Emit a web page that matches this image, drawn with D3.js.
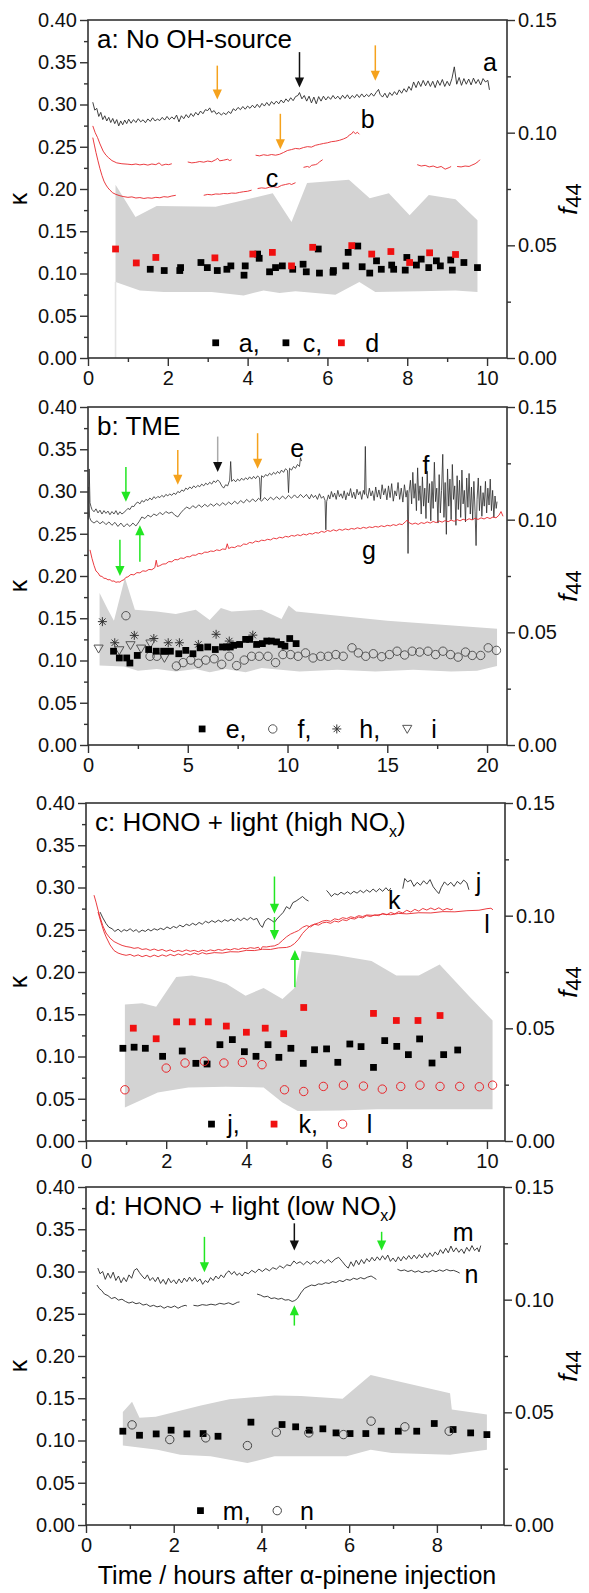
<!DOCTYPE html>
<html>
<head>
<meta charset="utf-8">
<script src="https://cdn.jsdelivr.net/npm/d3@7"></script>
<style>
  body { margin: 0; background: #fff; }
  svg { display: block; font-family: "Liberation Sans", Arial, Helvetica, sans-serif; }
</style>
</head>
<body>
<svg id="fig" width="589" height="1593"></svg>
<script>
// ---------------- axis ticks ----------------
const kappaTicks = [0, 0.05, 0.10, 0.15, 0.20, 0.25, 0.30, 0.35, 0.40];
const kappaMinor = [0.025, 0.075, 0.125, 0.175, 0.225, 0.275, 0.325, 0.375];
const f44Ticks = [0, 0.05, 0.10, 0.15];
const f44Minor = [0.025, 0.075, 0.125];
const timeTicksA = [0, 2, 4, 6, 8, 10], timeMinorA = [1, 3, 5, 7, 9];
const timeTicksB = [0, 5, 10, 15, 20], timeMinorB = [2.5, 7.5, 12.5, 17.5];
const timeTicksC = [0, 2, 4, 6, 8, 10], timeMinorC = [1, 3, 5, 7, 9];
const timeTicksD = [0, 2, 4, 6, 8], timeMinorD = [1, 3, 5, 7, 9];

// ---------------- panel a : no OH source ----------------
// f44 time series [hours, f44]
const f44_a = [[
[0.12,0.1135],[0.17,0.1100],[0.22,0.1108],[0.27,0.1072],[0.32,0.1090],[0.37,0.1058],[0.42,0.1075],[0.47,0.1052],[0.52,0.1068],[0.57,0.1045],[0.62,0.1063],[0.67,0.1040],[0.72,0.1058],[0.77,0.1030],[0.82,0.1052],[0.87,0.1035],[0.92,0.1056],[0.97,0.1040],[1.02,0.1060],[1.08,0.1042],[1.14,0.1058],[1.2,0.1045],[1.26,0.1062],[1.32,0.1048],[1.38,0.1057],[1.44,0.1044],[1.5,0.1061],[1.56,0.1050],[1.62,0.1066],[1.68,0.1052],[1.74,0.1060],[1.8,0.1054],[1.86,0.1068],[1.92,0.1056],[1.98,0.1072],[2.04,0.1058],[2.1,0.1070],[2.16,0.1060],[2.22,0.1078],[2.28,0.1048],[2.34,0.1075],[2.4,0.1062],[2.46,0.1080],[2.52,0.1066],[2.58,0.1085],[2.64,0.1072],[2.7,0.1090],[2.76,0.1078],[2.82,0.1096],[2.88,0.1084],[2.94,0.1102],[3.0,0.1098],[3.05,0.1110],[3.1,0.1090],[3.16,0.1098],[3.22,0.1082],[3.28,0.1090],[3.34,0.1078],[3.4,0.1088],[3.46,0.1080],[3.52,0.1094],[3.58,0.1085],[3.64,0.1106],[3.7,0.1098],[3.76,0.1112],[3.82,0.1102],[3.88,0.1116],[3.94,0.1104],[4.0,0.1118],[4.06,0.1108],[4.12,0.1122],[4.18,0.1110],[4.24,0.1126],[4.3,0.1112],[4.36,0.1130],[4.42,0.1118],[4.48,0.1134],[4.54,0.1120],[4.6,0.1138],[4.66,0.1126],[4.72,0.1140],[4.78,0.1128],[4.84,0.1145],[4.9,0.1132],[4.96,0.1150],[5.02,0.1138],[5.08,0.1155],[5.14,0.1142],[5.2,0.1160],[5.26,0.1165],[5.3,0.1178],[5.36,0.1150],[5.42,0.1165],[5.48,0.1140],[5.54,0.1162],[5.6,0.1132],[5.66,0.1158],[5.72,0.1128],[5.78,0.1160],[5.84,0.1140],[5.9,0.1162],[5.96,0.1145],[6.02,0.1160],[6.08,0.1148],[6.14,0.1165],[6.2,0.1150],[6.26,0.1162],[6.32,0.1148],[6.38,0.1166],[6.44,0.1152],[6.5,0.1168],[6.56,0.1150],[6.62,0.1165],[6.68,0.1155],[6.74,0.1170],[6.8,0.1156],[6.86,0.1172],[6.92,0.1158],[6.98,0.1170],[7.04,0.1160],[7.1,0.1175],[7.16,0.1162],[7.22,0.1178],[7.28,0.1192],[7.32,0.1170],[7.38,0.1158],[7.44,0.1175],[7.5,0.1155],[7.56,0.1178],[7.62,0.1165],[7.68,0.1182],[7.74,0.1168],[7.8,0.1190],[7.86,0.1175],[7.92,0.1195],[7.98,0.1180],[8.04,0.1205],[8.1,0.1188],[8.16,0.1225],[8.22,0.1200],[8.28,0.1228],[8.34,0.1205],[8.4,0.1232],[8.46,0.1208],[8.52,0.1230],[8.58,0.1205],[8.64,0.1228],[8.7,0.1200],[8.76,0.1232],[8.82,0.1210],[8.88,0.1236],[8.94,0.1205],[9.0,0.1228],[9.06,0.1208],[9.12,0.1240],[9.18,0.1292],[9.24,0.1215],[9.3,0.1245],[9.36,0.1210],[9.42,0.1240],[9.48,0.1215],[9.54,0.1238],[9.6,0.1212],[9.66,0.1242],[9.72,0.1218],[9.78,0.1236],[9.84,0.1212],[9.9,0.1240],[9.96,0.1225],[10.02,0.1232],[10.06,0.1190]
]];
const f44_b = [[
[4.2,0.0900],[4.3,0.0897],[4.4,0.0902],[4.5,0.0899],[4.6,0.0903],[4.7,0.0900],[4.8,0.0904],[4.9,0.0912],[5.0,0.0921],[5.1,0.0925],[5.2,0.0930],[5.3,0.0928],[5.4,0.0934],[5.5,0.0938],[5.6,0.0936],[5.7,0.0944],[5.8,0.0948],[5.9,0.0952],[6.0,0.0955],[6.1,0.0960],[6.2,0.0962],[6.3,0.0966],[6.4,0.0972],[6.5,0.0980],[6.55,0.0990],[6.6,0.0994],[6.65,0.1005],[6.7,0.0995],[6.75,0.1002],[6.8,0.0993]
]];
const f44_c = [
[[0.12,0.0978],[0.16,0.0945],[0.2,0.0912],[0.25,0.0875],[0.3,0.0840],[0.35,0.0810],[0.4,0.0785],[0.45,0.0768],[0.5,0.0755],[0.55,0.0745],[0.62,0.0733],[0.7,0.0726],[0.8,0.0720],[0.9,0.0716],[1.0,0.0713],[1.1,0.0715],[1.2,0.0710],[1.3,0.0712],[1.4,0.0708],[1.5,0.0711],[1.6,0.0709],[1.7,0.0713],[1.8,0.0711],[1.9,0.0716],[2.0,0.0714],[2.1,0.0719],[2.2,0.0722]],
[[2.9,0.0722],[3.0,0.0726],[3.1,0.0724],[3.2,0.0728],[3.3,0.0727],[3.4,0.0730],[3.5,0.0729],[3.6,0.0732],[3.7,0.0731],[3.8,0.0735],[3.9,0.0738],[4.0,0.0740],[4.1,0.0745]],
[[4.25,0.0752],[4.35,0.0755],[4.45,0.0753],[4.55,0.0758],[4.65,0.0760],[4.75,0.0757],[4.85,0.0766],[4.95,0.0770],[5.05,0.0774],[5.1,0.0770],[5.2,0.0778]]
];
const f44_d = [
[[0.12,0.1030],[0.18,0.1000],[0.24,0.0978],[0.3,0.0950],[0.38,0.0918],[0.45,0.0900],[0.52,0.0888],[0.6,0.0876],[0.72,0.0866],[0.85,0.0862],[1.0,0.0860],[1.1,0.0858],[1.2,0.0861],[1.3,0.0857],[1.4,0.0860],[1.5,0.0856],[1.6,0.0861],[1.7,0.0858],[1.78,0.0866],[1.85,0.0855],[1.95,0.0860],[2.02,0.0858],[2.1,0.0862]],
[[2.5,0.0870],[2.6,0.0866],[2.7,0.0868],[2.8,0.0872],[2.9,0.0869],[3.0,0.0874],[3.1,0.0871],[3.2,0.0880],[3.25,0.0886],[3.3,0.0875],[3.4,0.0878],[3.5,0.0882],[3.55,0.0876],[3.6,0.0880]],
[[5.4,0.0846],[5.5,0.0850],[5.55,0.0846],[5.6,0.0855],[5.7,0.0858],[5.75,0.0862],[5.8,0.0870],[5.88,0.0880]],
[[8.25,0.0858],[8.35,0.0852],[8.45,0.0855],[8.55,0.0848],[8.65,0.0852],[8.75,0.0845],[8.85,0.0850],[8.95,0.0838],[9.05,0.0845],[9.1,0.0850]],
[[9.25,0.0850],[9.35,0.0848],[9.45,0.0852],[9.55,0.0850],[9.62,0.0856],[9.7,0.0862],[9.78,0.0872],[9.82,0.0880]]
];
// kappa values [hours, kappa]
const kappaA = [[1.56,0.105],[2.3,0.1035],[2.83,0.113],[3.24,0.1035],[3.58,0.109],[3.94,0.109],[4.29,0.118],[4.7,0.107],[5.13,0.105],[5.47,0.102],[5.8,0.1005],[6.15,0.1035],[6.52,0.125],[6.87,0.108],[7.23,0.115],[7.61,0.110],[7.95,0.104],[8.23,0.110],[8.54,0.107],[8.83,0.109],[9.13,0.104],[9.76,0.107]];
const kappaC = [[1.91,0.1035],[2.32,0.107],[2.99,0.107],[3.48,0.105],[3.91,0.098],[4.25,0.123],[4.55,0.102],[4.87,0.109],[5.39,0.111],[5.77,0.129],[6.14,0.1015],[6.46,0.109],[6.76,0.1325],[7.06,0.1005],[7.35,0.105],[7.66,0.105],[7.99,0.119],[8.35,0.117],[8.73,0.115],[9.09,0.116],[9.42,0.113]];
const kappaD = [[0.69,0.129],[1.21,0.1125],[1.7,0.119],[3.18,0.1185],[4.13,0.123],[4.62,0.125],[5.1,0.109],[5.63,0.131],[6.61,0.133],[7.11,0.123],[7.59,0.126],[8.06,0.113],[8.56,0.1245],[9.21,0.1225]];
const bandA_hi = [[0.69,0.205],[1.19,0.167],[1.72,0.18],[3.2,0.179],[4.63,0.195],[5.1,0.161],[5.49,0.207],[6.54,0.211],[7.06,0.189],[7.54,0.195],[8.06,0.169],[8.54,0.193],[9.21,0.188],[9.76,0.163]];
const bandA_lo = [[0.69,0.09],[1.3,0.08],[1.9,0.078],[3.1,0.078],[3.9,0.074],[4.4,0.080],[4.8,0.077],[5.2,0.079],[6.2,0.075],[6.8,0.09],[7.2,0.078],[8.3,0.079],[9.21,0.080],[9.76,0.078]];

// ---------------- panel b : TME ----------------
const f44_e = [[
[0.03,0.1000],[0.06,0.1225],[0.1,0.1075],[0.15,0.1058],[0.2,0.1045],[0.3,0.1035],[0.4,0.1048],[0.5,0.1030],[0.6,0.1042],[0.7,0.1025],[0.8,0.1040],[0.9,0.1028],[1.0,0.1038],[1.1,0.1022],[1.2,0.1036],[1.3,0.1025],[1.4,0.1040],[1.5,0.1022],[1.6,0.1035],[1.7,0.1025],[1.8,0.1032],[1.9,0.1040],[2.0,0.1050],[2.1,0.1045],[2.2,0.1060],[2.3,0.1058],[2.4,0.1072],[2.5,0.1078],[2.6,0.1070],[2.7,0.1085],[2.8,0.1078],[2.9,0.1090],[3.0,0.1085],[3.1,0.1096],[3.2,0.1088],[3.3,0.1102],[3.4,0.1094],[3.5,0.1103],[3.6,0.1098],[3.7,0.1108],[3.8,0.1100],[3.9,0.1112],[4.0,0.1106],[4.1,0.1114],[4.2,0.1108],[4.3,0.1118],[4.4,0.1112],[4.5,0.1125],[4.6,0.1120],[4.7,0.1132],[4.8,0.1126],[4.9,0.1140],[5.0,0.1134],[5.1,0.1145],[5.2,0.1138],[5.3,0.1150],[5.4,0.1142],[5.5,0.1152],[5.6,0.1146],[5.7,0.1158],[5.8,0.1150],[5.9,0.1162],[6.0,0.1155],[6.1,0.1166],[6.2,0.1158],[6.3,0.1172],[6.4,0.1165],[6.5,0.1176],[6.6,0.1168],[6.7,0.1150],[6.8,0.1140],[6.9,0.1155],[7.0,0.1150],[7.1,0.1175],[7.15,0.1258],[7.2,0.1170],[7.3,0.1178],[7.4,0.1168],[7.5,0.1180],[7.6,0.1172],[7.7,0.1184],[7.8,0.1175],[7.9,0.1186],[8.0,0.1178],[8.1,0.1190],[8.2,0.1180],[8.3,0.1192],[8.4,0.1182],[8.5,0.1194],[8.6,0.1186],[8.65,0.1090],[8.7,0.1195],[8.8,0.1188],[8.9,0.1200],[9.0,0.1194],[9.1,0.1206],[9.2,0.1198],[9.3,0.1210],[9.4,0.1202],[9.5,0.1214],[9.6,0.1205],[9.7,0.1220],[9.8,0.1210],[9.9,0.1226],[10.0,0.1218],[10.05,0.1120],[10.1,0.1228],[10.2,0.1220],[10.3,0.1236],[10.4,0.1228],[10.5,0.1245],[10.6,0.1236],[10.65,0.1275],[10.7,0.1260]
]];
const f44_f = [[
[0.03,0.1145],[0.08,0.1010],[0.15,0.0995],[0.3,0.0985],[0.45,0.0995],[0.6,0.0982],[0.75,0.0992],[0.9,0.0978],[1.05,0.0990],[1.2,0.0975],[1.35,0.0988],[1.5,0.0970],[1.65,0.0985],[1.8,0.0968],[1.95,0.0982],[2.1,0.0970],[2.25,0.0985],[2.4,0.0972],[2.55,0.0990],[2.7,0.1012],[2.85,0.1005],[3.0,0.1020],[3.15,0.1012],[3.3,0.1025],[3.45,0.1018],[3.6,0.1032],[3.75,0.1022],[3.9,0.1036],[4.05,0.1028],[4.2,0.1034],[4.35,0.1020],[4.5,0.1012],[4.65,0.1030],[4.8,0.1045],[4.95,0.1056],[5.1,0.1048],[5.25,0.1062],[5.4,0.1052],[5.55,0.1066],[5.7,0.1055],[5.85,0.1068],[6.0,0.1058],[6.15,0.1070],[6.3,0.1060],[6.45,0.1072],[6.6,0.1062],[6.75,0.1075],[6.9,0.1065],[7.05,0.1078],[7.2,0.1068],[7.35,0.1082],[7.5,0.1070],[7.65,0.1085],[7.8,0.1074],[7.95,0.1090],[8.1,0.1078],[8.25,0.1092],[8.4,0.1080],[8.55,0.1095],[8.7,0.1082],[8.85,0.1098],[9.0,0.1085],[9.15,0.1100],[9.3,0.1088],[9.45,0.1102],[9.6,0.1090],[9.75,0.1105],[9.9,0.1092],[10.05,0.1108],[10.2,0.1095],[10.35,0.1110],[10.5,0.1096],[10.65,0.1112],[10.8,0.1098],[10.95,0.1112],
[11.0,0.1105],[11.1,0.1092],[11.2,0.1112],[11.3,0.1098],[11.4,0.1108],[11.5,0.1090],[11.6,0.1115],[11.7,0.1095],[11.8,0.1104],[11.88,0.1085],[11.92,0.0955],[11.96,0.1080],[12.05,0.1110],[12.12,0.1092],[12.2,0.1125],[12.28,0.1100],[12.36,0.1118],[12.44,0.1090],[12.52,0.1130],[12.6,0.1102],[12.68,0.1115],[12.76,0.1095],[12.84,0.1128],[12.92,0.1088],[13.0,0.1120],[13.08,0.1105],[13.16,0.1138],[13.24,0.1098],[13.32,0.1122],[13.4,0.1092],[13.48,0.1135],[13.56,0.1110],[13.64,0.1125],[13.72,0.1090],[13.8,0.1130],[13.86,0.1112],[13.9,0.1325],[13.94,0.1118],[14.02,0.1095],[14.1,0.1140],[14.18,0.1105],[14.26,0.1128],[14.34,0.1085],[14.42,0.1145],[14.5,0.1100],[14.58,0.1132],[14.66,0.1092],[14.74,0.1155],[14.82,0.1110],[14.9,0.1138],[14.98,0.1088],[15.06,0.1150],[15.14,0.1098],[15.22,0.1160],[15.3,0.1082],[15.38,0.1128],[15.46,0.1105],[15.54,0.1165],[15.62,0.1090],[15.7,0.1140],[15.78,0.1078],[15.86,0.1155],[15.94,0.1100],[16.0,0.1130],[16.04,0.0850],[16.08,0.1115],[16.16,0.1175],[16.22,0.1070],[16.28,0.1210],[16.34,0.1095],[16.4,0.1160],[16.46,0.1040],[16.52,0.1230],[16.58,0.1085],[16.64,0.1150],[16.7,0.1025],[16.76,0.1190],[16.82,0.1060],[16.88,0.1140],[16.94,0.1005],[17.0,0.1215],[17.06,0.1075],[17.12,0.1160],[17.18,0.0995],[17.24,0.1170],[17.3,0.1050],[17.36,0.1255],[17.42,0.1080],[17.48,0.1140],[17.54,0.0985],[17.6,0.1200],[17.66,0.1030],[17.72,0.1130],[17.78,0.1290],[17.84,0.1010],[17.9,0.1165],[17.96,0.0935],[18.02,0.1225],[18.08,0.1060],[18.14,0.1180],[18.2,0.1000],[18.26,0.1245],[18.32,0.1090],[18.38,0.1150],[18.44,0.0975],[18.5,0.1195],[18.56,0.1045],[18.62,0.1175],[18.68,0.1010],[18.74,0.1220],[18.8,0.1070],[18.86,0.1130],[18.92,0.0990],[18.98,0.1185],[19.04,0.1055],[19.1,0.1205],[19.16,0.1025],[19.22,0.1145],[19.28,0.1000],[19.34,0.1170],[19.4,0.1035],[19.45,0.0885],[19.5,0.1090],[19.56,0.1185],[19.62,0.1040],[19.68,0.1150],[19.74,0.1015],[19.8,0.1120],[19.86,0.1060],[19.92,0.1170],[19.98,0.1030],[20.04,0.1140],[20.1,0.1065],[20.16,0.1180],[20.22,0.1040],[20.28,0.1130],[20.34,0.1010],[20.4,0.1105],[20.46,0.1050],[20.5,0.1080]
]];
const f44_g = [[
[0.1,0.0866],[0.2,0.0828],[0.3,0.0797],[0.4,0.0772],[0.5,0.0764],[0.6,0.0750],[0.7,0.0748],[0.8,0.0740],[0.9,0.0739],[1.0,0.0733],[1.1,0.0734],[1.2,0.0727],[1.3,0.0728],[1.4,0.0722],[1.5,0.0724],[1.6,0.0723],[1.7,0.0730],[1.8,0.0733],[1.9,0.0744],[2.0,0.0746],[2.15,0.0757],[2.3,0.0755],[2.45,0.0765],[2.6,0.0764],[2.75,0.0773],[2.9,0.0771],[3.05,0.0779],[3.2,0.0778],[3.35,0.0787],[3.42,0.0820],[3.48,0.0792],[3.6,0.0796],[3.75,0.0803],[3.9,0.0804],[4.05,0.0814],[4.2,0.0813],[4.35,0.0823],[4.5,0.0822],[4.65,0.0830],[4.8,0.0828],[4.95,0.0836],[5.1,0.0835],[5.25,0.0843],[5.4,0.0842],[5.55,0.0850],[5.7,0.0848],[5.85,0.0856],[6.0,0.0855],[6.15,0.0861],[6.3,0.0859],[6.45,0.0866],[6.6,0.0863],[6.75,0.0870],[6.9,0.0868],[6.98,0.0893],[7.05,0.0872],[7.2,0.0878],[7.35,0.0876],[7.5,0.0884],[7.65,0.0882],[7.8,0.0892],[7.95,0.0890],[8.1,0.0899],[8.25,0.0896],[8.4,0.0905],[8.55,0.0902],[8.7,0.0909],[8.85,0.0907],[9.0,0.0913],[9.15,0.0910],[9.3,0.0918],[9.45,0.0915],[9.6,0.0922],[9.75,0.0919],[9.9,0.0926],[10.05,0.0923],[10.2,0.0930],[10.35,0.0927],[10.5,0.0933],[10.65,0.0929],[10.8,0.0936],[10.95,0.0932],[11.1,0.0939],[11.25,0.0936],[11.4,0.0943],[11.55,0.0940],[11.7,0.0948],[11.85,0.0944],[12.0,0.0952],[12.15,0.0948],[12.3,0.0955],[12.45,0.0950],[12.6,0.0957],[12.75,0.0953],[12.9,0.0959],[13.05,0.0955],[13.2,0.0961],[13.35,0.0958],[13.5,0.0964],[13.65,0.0960],[13.8,0.0966],[13.95,0.0962],[14.1,0.0968],[14.25,0.0965],[14.4,0.0970],[14.55,0.0967],[14.7,0.0973],[14.85,0.0969],[15.0,0.0975],[15.15,0.0972],[15.3,0.0978],[15.45,0.0974],[15.6,0.0981],[15.75,0.0978],[15.9,0.0990],[16.0,0.0998],[16.1,0.0986],[16.25,0.0980],[16.4,0.0985],[16.55,0.0979],[16.7,0.0987],[16.85,0.0983],[17.0,0.0990],[17.15,0.0985],[17.3,0.0992],[17.45,0.0987],[17.6,0.0994],[17.75,0.0989],[17.9,0.0996],[18.05,0.0991],[18.2,0.0998],[18.35,0.0993],[18.5,0.1000],[18.65,0.0995],[18.8,0.1002],[18.95,0.0997],[19.1,0.1004],[19.25,0.0999],[19.4,0.1006],[19.55,0.1001],[19.7,0.1008],[19.85,0.1003],[20.0,0.1010],[20.15,0.1005],[20.3,0.1012],[20.45,0.1008],[20.6,0.1020],[20.7,0.1036],[20.8,0.1015]
]];
const kappaE = [[1.28,0.111],[1.57,0.103],[1.94,0.103],[2.1,0.097],[2.47,0.106],[3.04,0.113],[3.42,0.111],[3.79,0.111],[4.13,0.111],[4.55,0.108],[4.9,0.112],[5.26,0.108],[5.62,0.115],[6.0,0.116],[6.38,0.113],[6.74,0.116],[6.94,0.116],[7.13,0.116],[7.3,0.118],[7.6,0.119],[7.9,0.125],[8.1,0.125],[8.45,0.119],[8.74,0.12],[8.96,0.123],[9.19,0.123],[9.45,0.122],[9.68,0.119],[9.87,0.117],[10.11,0.126],[10.43,0.12]];
const kappaF = [[1.9,0.153],[3.11,0.105],[3.45,0.105],[4.43,0.0935],[4.77,0.0975],[5.15,0.1005],[5.53,0.0967],[5.9,0.1005],[6.32,0.102],[6.7,0.0955],[7.08,0.105],[7.45,0.094],[7.83,0.1005],[8.2,0.105],[8.58,0.105],[9.02,0.105],[9.4,0.0975],[9.77,0.107],[10.15,0.107],[10.53,0.105],[10.9,0.109],[11.28,0.103],[11.66,0.105],[12.04,0.105],[12.42,0.107],[12.79,0.105],[13.23,0.115],[13.55,0.109],[13.92,0.105],[14.3,0.108],[14.72,0.1045],[15.11,0.107],[15.49,0.111],[15.87,0.1065],[16.25,0.111],[16.62,0.11],[17.04,0.111],[17.42,0.107],[17.79,0.111],[18.17,0.107],[18.55,0.104],[18.92,0.110],[19.26,0.106],[19.68,0.106],[20.06,0.115],[20.47,0.112]];
const kappaH = [[0.72,0.146],[1.34,0.121],[2.32,0.1297],[3.3,0.126],[4.02,0.121],[4.58,0.121],[5.53,0.119],[6.42,0.131],[7.08,0.123],[8.26,0.130]];
const kappaI = [[0.53,0.114],[1.57,0.112],[2.13,0.118],[2.66,0.114],[3.13,0.12],[3.83,0.103]];
const bandB_hi = [[0.58,0.18],[1.0,0.16],[1.3,0.147],[1.85,0.198],[2.35,0.16],[3.45,0.158],[4.4,0.155],[5.4,0.16],[6.1,0.148],[6.66,0.162],[7.2,0.158],[8.7,0.16],[9.7,0.149],[10.06,0.165],[10.43,0.158],[15.0,0.147],[20.5,0.1375]];
const bandB_lo = [[0.58,0.094],[1.8,0.093],[2.5,0.088],[3.45,0.090],[4.4,0.087],[5.4,0.090],[6.1,0.086],[6.9,0.090],[7.9,0.086],[8.7,0.091],[10.6,0.087],[12.5,0.089],[14.4,0.087],[16.3,0.089],[18.2,0.087],[19.5,0.088],[20.5,0.0935]];

// ---------------- panel c : HONO + light (high NOx) ----------------
const f44_j = [
[[0.35,0.1016],[0.42,0.0990],[0.5,0.0965],[0.57,0.0949],[0.65,0.0942],[0.72,0.0930],[0.8,0.0940],[0.88,0.0928],[0.95,0.0938],[1.02,0.0932],[1.1,0.0942],[1.18,0.0930],[1.25,0.0938],[1.32,0.0926],[1.4,0.0936],[1.48,0.0930],[1.55,0.0940],[1.62,0.0932],[1.7,0.0942],[1.78,0.0936],[1.86,0.0944],[1.94,0.0938],[2.02,0.0950],[2.1,0.0942],[2.18,0.0952],[2.26,0.0946],[2.34,0.0958],[2.42,0.0950],[2.5,0.0962],[2.58,0.0956],[2.66,0.0966],[2.74,0.0958],[2.82,0.0970],[2.9,0.0962],[2.98,0.0975],[3.06,0.0968],[3.14,0.0978],[3.22,0.0970],[3.3,0.0980],[3.38,0.0972],[3.46,0.0982],[3.54,0.0975],[3.62,0.0985],[3.7,0.0976],[3.78,0.0988],[3.86,0.0978],[3.94,0.0990],[4.02,0.0980],[4.1,0.0992],[4.18,0.0982],[4.26,0.0988],[4.34,0.0960],[4.4,0.0948],[4.46,0.0975],[4.54,0.0988],[4.62,0.0980],[4.7,0.0970],[4.76,0.0985],[4.84,0.1000],[4.92,0.1015],[5.0,0.1040],[5.08,0.1030],[5.16,0.1058],[5.24,0.1065],[5.32,0.1075],[5.4,0.1085],[5.48,0.1072],[5.55,0.1065]],
[[6.0,0.1112],[6.06,0.1100],[6.12,0.1085],[6.2,0.1098],[6.28,0.1092],[6.36,0.1104],[6.44,0.1095],[6.52,0.1106],[6.6,0.1096],[6.68,0.1108],[6.76,0.1100],[6.84,0.1112],[6.92,0.1102],[7.0,0.1114],[7.08,0.1104],[7.16,0.1118],[7.24,0.1106],[7.32,0.1120],[7.4,0.1108],[7.48,0.1124],[7.55,0.1110],[7.6,0.1122]],
[[7.9,0.1120],[7.95,0.1165],[8.02,0.1150],[8.1,0.1158],[8.18,0.1130],[8.26,0.1148],[8.34,0.1135],[8.42,0.1155],[8.5,0.1140],[8.58,0.1160],[8.66,0.1128],[8.74,0.1110],[8.8,0.1098],[8.86,0.1125],[8.94,0.1150],[9.02,0.1135],[9.1,0.1148],[9.18,0.1130],[9.26,0.1152],[9.34,0.1140],[9.42,0.1158],[9.5,0.1145],[9.55,0.1115]]
];
const f44_k = [[
[0.2,0.1091],[0.25,0.1060],[0.3,0.1025],[0.35,0.0994],[0.42,0.0955],[0.5,0.0923],[0.6,0.0900],[0.7,0.0885],[0.8,0.0876],[0.9,0.0868],[1.0,0.0863],[1.1,0.0860],[1.2,0.0855],[1.3,0.0858],[1.4,0.0850],[1.5,0.0853],[1.6,0.0846],[1.7,0.0852],[1.8,0.0845],[1.9,0.0850],[2.0,0.0842],[2.1,0.0848],[2.2,0.0840],[2.3,0.0846],[2.4,0.0841],[2.5,0.0848],[2.6,0.0842],[2.7,0.0846],[2.8,0.0840],[2.9,0.0847],[3.0,0.0842],[3.1,0.0848],[3.2,0.0844],[3.3,0.0850],[3.4,0.0846],[3.5,0.0852],[3.6,0.0848],[3.7,0.0854],[3.8,0.0850],[3.9,0.0856],[4.0,0.0853],[4.1,0.0858],[4.2,0.0855],[4.3,0.0860],[4.35,0.0848],[4.4,0.0862],[4.5,0.0861],[4.6,0.0864],[4.7,0.0866],[4.8,0.0874],[4.9,0.0890],[5.0,0.0906],[5.1,0.0918],[5.2,0.0926],[5.3,0.0934],[5.4,0.0948],[5.5,0.0956],[5.6,0.0950],[5.7,0.0962],[5.8,0.0958],[5.9,0.0968],[6.0,0.0971],[6.1,0.0966],[6.2,0.0976],[6.3,0.0972],[6.4,0.0982],[6.5,0.0978],[6.6,0.0988],[6.7,0.0985],[6.8,0.0994],[6.9,0.0990],[7.0,0.1000],[7.1,0.0996],[7.2,0.1004],[7.3,0.1000],[7.4,0.1010],[7.5,0.1004],[7.6,0.1014],[7.7,0.1008],[7.8,0.1018],[7.9,0.1012],[8.0,0.1024],[8.1,0.1016],[8.2,0.1028],[8.3,0.1020],[8.4,0.1032],[8.5,0.1025],[8.6,0.1034],[8.7,0.1026],[8.8,0.1035],[8.9,0.1024],[9.0,0.1032],[9.1,0.1026],[9.15,0.1030]
]];
const f44_l = [[
[0.3,0.1016],[0.35,0.0985],[0.4,0.0955],[0.45,0.0928],[0.5,0.0906],[0.6,0.0870],[0.7,0.0845],[0.8,0.0834],[0.9,0.0828],[1.0,0.0824],[1.1,0.0828],[1.2,0.0820],[1.3,0.0826],[1.4,0.0818],[1.5,0.0824],[1.6,0.0817],[1.7,0.0825],[1.8,0.0818],[1.9,0.0826],[2.0,0.0820],[2.1,0.0828],[2.2,0.0822],[2.3,0.0830],[2.4,0.0824],[2.5,0.0832],[2.6,0.0826],[2.7,0.0834],[2.8,0.0828],[2.9,0.0836],[3.0,0.0830],[3.2,0.0836],[3.4,0.0834],[3.6,0.0840],[3.8,0.0839],[4.0,0.0846],[4.2,0.0845],[4.4,0.0851],[4.6,0.0850],[4.8,0.0857],[5.0,0.0859],[5.1,0.0864],[5.2,0.0876],[5.3,0.0895],[5.4,0.0921],[5.5,0.0940],[5.6,0.0956],[5.7,0.0962],[5.8,0.0968],[5.9,0.0976],[6.0,0.0979],[6.1,0.0975],[6.2,0.0986],[6.3,0.0982],[6.4,0.0991],[6.5,0.0987],[6.6,0.0995],[6.7,0.0991],[6.8,0.1000],[6.9,0.0996],[7.0,0.1003],[7.2,0.1001],[7.4,0.1007],[7.6,0.1004],[7.8,0.1010],[8.0,0.1008],[8.3,0.1013],[8.6,0.1012],[8.9,0.1018],[9.2,0.1017],[9.5,0.1022],[9.8,0.1024],[10.0,0.1031],[10.1,0.1033],[10.15,0.1026]
]];
const kappaJ = [[0.92,0.1097],[1.2,0.111],[1.48,0.1097],[1.91,0.1002],[2.4,0.1065],[2.74,0.0919],[3.02,0.0911],[3.34,0.114],[3.65,0.12],[3.95,0.1057],[4.24,0.1002],[4.54,0.114],[4.81,0.099],[5.11,0.1097],[5.42,0.0919],[5.7,0.108],[6.0,0.109],[6.28,0.0931],[6.58,0.1148],[6.86,0.1117],[7.17,0.0871],[7.45,0.1188],[7.75,0.112],[8.04,0.1022],[8.32,0.1208],[8.63,0.0923],[8.92,0.1022],[9.27,0.1077]];
const kappaK = [[1.18,0.1335],[1.75,0.121],[2.26,0.141],[2.65,0.141],[3.05,0.141],[3.5,0.136],[4.0,0.1287],[4.47,0.1335],[4.93,0.127],[5.43,0.158],[7.17,0.151],[7.74,0.1426],[8.28,0.1426],[8.83,0.1485]];
const kappaL = [[0.97,0.0606],[2.0,0.0863],[2.47,0.0923],[2.95,0.0943],[3.44,0.0923],[3.9,0.093],[4.39,0.0903],[4.95,0.0606],[5.43,0.0586],[5.92,0.0646],[6.42,0.0661],[6.92,0.065],[7.39,0.0614],[7.85,0.0646],[8.33,0.0661],[8.83,0.0646],[9.32,0.0646],[9.81,0.0642],[10.14,0.0661]];
const bandC_hi = [[0.97,0.1616],[1.4,0.163],[1.75,0.159],[2.25,0.194],[2.64,0.196],[3.1,0.192],[3.5,0.186],[3.98,0.172],[4.43,0.181],[4.9,0.168],[5.22,0.182],[5.38,0.225],[6.23,0.22],[7.12,0.213],[7.74,0.196],[8.3,0.196],[8.82,0.209],[9.58,0.17],[10.14,0.1426]];
const bandC_lo = [[0.97,0.0396],[1.79,0.0574],[2.55,0.0634],[3.49,0.0642],[4.43,0.0634],[4.9,0.0455],[5.28,0.0356],[6.32,0.036],[7.26,0.0376],[8.2,0.0376],[9.15,0.0376],[10.14,0.0376]];

// ---------------- panel d : HONO + light (low NOx) ----------------
const f44_m = [[
[0.27,0.1140],[0.32,0.1115],[0.38,0.1125],[0.44,0.1090],[0.5,0.1118],[0.56,0.1095],[0.62,0.1122],[0.68,0.1085],[0.74,0.1105],[0.8,0.1075],[0.86,0.1098],[0.92,0.1080],[0.98,0.1110],[1.04,0.1095],[1.1,0.1130],[1.16,0.1138],[1.22,0.1120],[1.28,0.1105],[1.34,0.1092],[1.4,0.1110],[1.46,0.1085],[1.52,0.1098],[1.58,0.1080],[1.64,0.1100],[1.7,0.1072],[1.76,0.1090],[1.82,0.1068],[1.88,0.1095],[1.94,0.1075],[2.0,0.1088],[2.06,0.1070],[2.12,0.1092],[2.18,0.1074],[2.24,0.1096],[2.3,0.1080],[2.36,0.1100],[2.42,0.1082],[2.48,0.1098],[2.54,0.1080],[2.6,0.1092],[2.66,0.1068],[2.72,0.1085],[2.78,0.1076],[2.84,0.1098],[2.9,0.1085],[2.96,0.1105],[3.02,0.1092],[3.08,0.1110],[3.14,0.1098],[3.2,0.1118],[3.26,0.1128],[3.32,0.1112],[3.38,0.1125],[3.44,0.1108],[3.5,0.1118],[3.56,0.1105],[3.62,0.1122],[3.7,0.1115],[3.78,0.1130],[3.86,0.1120],[3.94,0.1136],[4.02,0.1125],[4.1,0.1138],[4.18,0.1128],[4.26,0.1142],[4.34,0.1135],[4.42,0.1150],[4.5,0.1140],[4.58,0.1155],[4.66,0.1150],[4.74,0.1172],[4.8,0.1160],[4.88,0.1168],[4.96,0.1155],[5.04,0.1170],[5.12,0.1158],[5.2,0.1172],[5.28,0.1160],[5.36,0.1175],[5.44,0.1162],[5.52,0.1178],[5.6,0.1165],[5.68,0.1180],[5.76,0.1188],[5.84,0.1170],[5.92,0.1150],[5.98,0.1140],[6.04,0.1168],[6.1,0.1148],[6.16,0.1175],[6.22,0.1155],[6.28,0.1178],[6.34,0.1160],[6.4,0.1182],[6.46,0.1168],[6.52,0.1188],[6.58,0.1172],[6.64,0.1190],[6.7,0.1175],[6.76,0.1195],[6.82,0.1178],[6.88,0.1198],[6.94,0.1170],[7.0,0.1185],[7.06,0.1168],[7.12,0.1190],[7.18,0.1172],[7.24,0.1192],[7.3,0.1178],[7.36,0.1196],[7.42,0.1180],[7.48,0.1198],[7.54,0.1182],[7.6,0.1200],[7.66,0.1185],[7.72,0.1205],[7.78,0.1188],[7.84,0.1208],[7.9,0.1192],[7.96,0.1212],[8.02,0.1198],[8.08,0.1222],[8.14,0.1205],[8.2,0.1228],[8.26,0.1208],[8.32,0.1238],[8.38,0.1212],[8.44,0.1230],[8.5,0.1210],[8.56,0.1225],[8.62,0.1205],[8.68,0.1232],[8.74,0.1215],[8.8,0.1240],[8.86,0.1218],[8.92,0.1230],[8.96,0.1212],[9.0,0.1240]
]];
const f44_n = [
[[0.25,0.1065],[0.3,0.1050],[0.36,0.1040],[0.42,0.1025],[0.5,0.1018],[0.58,0.1005],[0.66,0.1010],[0.74,0.0998],[0.82,0.1002],[0.9,0.0992],[0.98,0.0985],[1.06,0.0990],[1.14,0.0982],[1.22,0.0986],[1.3,0.0976],[1.38,0.0980],[1.46,0.0970],[1.54,0.0975],[1.62,0.0968],[1.7,0.0972],[1.78,0.0962],[1.86,0.0970],[1.94,0.0965],[2.02,0.0972],[2.1,0.0962],[2.18,0.0970],[2.26,0.0975],[2.3,0.0972]],
[[2.45,0.0975],[2.55,0.0972],[2.65,0.0978],[2.75,0.0975],[2.85,0.0980],[2.95,0.0976],[3.05,0.0984],[3.15,0.0980],[3.25,0.0986],[3.35,0.0978],[3.45,0.0988],[3.5,0.0990]],
[[3.9,0.1025],[3.98,0.1020],[4.06,0.1012],[4.14,0.1015],[4.22,0.1005],[4.3,0.1008],[4.38,0.1002],[4.46,0.1006],[4.54,0.0998],[4.62,0.1000],[4.7,0.0992],[4.76,0.0996],[4.82,0.1005],[4.9,0.1030],[4.98,0.1050],[5.06,0.1058],[5.14,0.1065],[5.22,0.1062],[5.3,0.1070],[5.38,0.1068],[5.46,0.1075],[5.54,0.1072],[5.62,0.1080],[5.7,0.1076],[5.78,0.1085],[5.86,0.1080],[5.94,0.1090],[6.02,0.1086],[6.1,0.1095],[6.18,0.1090],[6.26,0.1098],[6.34,0.1092],[6.42,0.1100],[6.5,0.1105],[6.56,0.1098],[6.62,0.1090]],
[[7.1,0.1135],[7.18,0.1128],[7.26,0.1132],[7.34,0.1125],[7.42,0.1130],[7.5,0.1122],[7.58,0.1128],[7.66,0.1120],[7.74,0.1126],[7.82,0.1122],[7.9,0.1130],[7.98,0.1124],[8.06,0.1132],[8.14,0.1126],[8.22,0.1134],[8.3,0.1128],[8.38,0.1130],[8.46,0.1124],[8.52,0.1118]]
];
const kappaM = [[0.84,0.111],[1.22,0.1062],[1.6,0.1078],[1.94,0.1122],[2.3,0.1078],[2.67,0.1082],[3.01,0.105],[3.76,0.1217],[4.47,0.1189],[4.78,0.1162],[5.09,0.1122],[5.4,0.1138],[5.7,0.109],[6.02,0.1082],[6.38,0.1082],[6.73,0.111],[7.12,0.111],[7.54,0.111],[7.94,0.1201],[8.37,0.113],[8.77,0.109],[9.14,0.107]];
const kappaN = [[1.05,0.1185],[1.91,0.1011],[2.73,0.1031],[3.68,0.094],[4.34,0.1098],[5.08,0.109],[5.87,0.107],[6.5,0.1229],[7.27,0.1162],[8.28,0.111]];
const bandD_hi = [[0.84,0.1336],[1.05,0.146],[1.22,0.127],[1.59,0.128],[2.62,0.1415],[3.27,0.1487],[4.3,0.1534],[4.9,0.1526],[5.85,0.1495],[6.49,0.1776],[8.3,0.1558],[8.34,0.1368],[9.14,0.1308]];
const bandD_lo = [[0.84,0.094],[1.63,0.0892],[2.15,0.0832],[2.84,0.0813],[3.68,0.0733],[4.3,0.0813],[5.94,0.0813],[6.49,0.0892],[6.97,0.0852],[8.3,0.0832],[9.14,0.0892]];

// ---------------- drawing ----------------
const svg = d3.select("#fig");
const FONT = '"Liberation Sans", Arial, Helvetica, sans-serif';
const PH = 338;                 // plot height of every panel
const INK = "#333";
const RED = "#e8262b";
const LINE_DARK = "#2b2b2b";
const ORANGE = "#f5a21d", GREEN = "#22e622", BLACK = "#111";

const markers = {
  square: (g, x, y, color) => g.append("path")
      .attr("d", d3.symbol(d3.symbolSquare, 46)()).attr("transform", `translate(${x},${y})`).attr("fill", color),
  circle: (g, x, y, color) => g.append("circle")
      .attr("cx", x).attr("cy", y).attr("r", 4.2).attr("fill", "none").attr("stroke", color).attr("stroke-width", 1),
  star: (g, x, y, color) => g.append("path")
      .attr("d", "M-4.5,0H4.5M0,-4.5V4.5M-3.2,-3.2L3.2,3.2M-3.2,3.2L3.2,-3.2")
      .attr("transform", `translate(${x},${y})`).attr("fill", "none").attr("stroke", color).attr("stroke-width", 1),
  tri: (g, x, y, color) => g.append("path")
      .attr("d", "M-4.6,-3.6L4.6,-3.6L0,4.4Z")
      .attr("transform", `translate(${x},${y})`).attr("fill", "none").attr("stroke", color).attr("stroke-width", 1)
};

function drawPanel(p) {
  const g = svg.append("g");
  const bottom = p.top + PH;
  const x = d3.scaleLinear().domain([0, p.xMax]).range([p.left, p.right]);
  const yK = d3.scaleLinear().domain([0, 0.4]).range([bottom, p.top]);
  const yF = d3.scaleLinear().domain([0, 0.15]).range([bottom, p.top]);

  // shaded kappa range
  const poly = p.bandHi.concat(p.bandLo.slice().reverse());
  g.append("path")
    .attr("d", d3.line().x(d => x(d[0])).y(d => yK(d[1]))(poly) + "Z")
    .attr("fill", "#d3d3d3");
  if (p.bandFoot) {
    g.append("line")
      .attr("x1", x(p.bandLo[0][0])).attr("x2", x(p.bandLo[0][0]))
      .attr("y1", yK(p.bandLo[0][1])).attr("y2", yK(0))
      .attr("stroke", "#e4e4e4").attr("stroke-width", 1.6);
  }

  // f44 time series (right axis)
  const lineGen = d3.line().x(d => x(d[0])).y(d => yF(d[1]));
  p.lines.forEach(L => L.data.forEach(seg => {
    g.append("path").attr("d", lineGen(seg)).attr("fill", "none")
      .attr("stroke", L.color).attr("stroke-width", L.width || 0.9)
      .attr("stroke-linejoin", "round");
  }));

  // kappa points (left axis)
  p.points.forEach(P => P.data.forEach(d => markers[P.shape](g, x(d[0]), yK(d[1]), P.color)));

  // arrows
  p.arrows.forEach(a => {
    const xa = x(a.t), y0 = yK(a.from), y1 = yK(a.to);
    const dir = y1 > y0 ? 1 : -1;
    g.append("line").attr("x1", xa).attr("x2", xa).attr("y1", y0).attr("y2", y1 - dir * 9)
      .attr("stroke", a.shaft || a.color).attr("stroke-width", 1.5);
    g.append("path")
      .attr("d", `M${xa - 4.6},${y1 - dir * 10}L${xa + 4.6},${y1 - dir * 10}L${xa},${y1}Z`)
      .attr("fill", a.color);
  });

  // series labels
  p.labels.forEach(l => g.append("text").attr("x", x(l.t)).attr("y", yK(l.k))
    .attr("text-anchor", "middle").attr("dominant-baseline", "central")
    .attr("font-size", 25).attr("fill", "#000").text(l.text));

  // legend
  p.legend.forEach(it => {
    if (it.shape) markers[it.shape](g, x(it.t), yK(it.k), it.color);
    else g.append("text").attr("x", x(it.t)).attr("y", yK(it.k)).attr("dominant-baseline", "central")
      .attr("font-size", 25).attr("fill", "#000").text(it.text);
  });

  // panel title
  const title = g.append("text").attr("x", p.left + 9).attr("y", p.top + 28)
    .attr("font-size", 26).attr("fill", "#000");
  p.title.forEach(part => {
    const ts = title.append("tspan").text(part.text);
    if (part.sub) ts.attr("font-size", 16).attr("dy", 6);
    if (part.after) ts.attr("dy", -6);
  });

  // axes
  const styleAxis = s => {
    s.select(".domain").remove();
    s.attr("font-family", FONT).attr("font-size", 20).attr("color", INK);
    s.selectAll("text").attr("fill", "#111");
    s.selectAll("line").attr("stroke-width", 1.4);
  };
  g.append("g").attr("transform", `translate(${p.left},0)`)
    .call(d3.axisLeft(yK).tickValues(kappaTicks).tickFormat(d3.format(".2f")).tickSize(8).tickPadding(3)).call(styleAxis);
  g.append("g").attr("transform", `translate(${p.left},0)`)
    .call(d3.axisLeft(yK).tickValues(kappaMinor).tickFormat("").tickSize(4)).call(styleAxis);
  g.append("g").attr("transform", `translate(${p.right},0)`)
    .call(d3.axisRight(yF).tickValues(f44Ticks).tickFormat(d3.format(".2f")).tickSize(8).tickPadding(3)).call(styleAxis);
  g.append("g").attr("transform", `translate(${p.right},0)`)
    .call(d3.axisRight(yF).tickValues(f44Minor).tickFormat("").tickSize(4)).call(styleAxis);
  g.append("g").attr("transform", `translate(0,${bottom})`)
    .call(d3.axisBottom(x).tickValues(p.xTicks).tickFormat(d3.format("d")).tickSize(8).tickPadding(5)).call(styleAxis);
  g.append("g").attr("transform", `translate(0,${bottom})`)
    .call(d3.axisBottom(x).tickValues(p.xMinor.filter(v => v < p.xMax)).tickFormat("").tickSize(4)).call(styleAxis);

  // frame
  g.append("rect").attr("x", p.left).attr("y", p.top).attr("width", p.right - p.left).attr("height", PH)
    .attr("fill", "none").attr("stroke", INK).attr("stroke-width", 1.6);

  // axis titles
  const midY = p.top + PH / 2 + 10;
  g.append("text").attr("transform", `translate(27,${midY}) rotate(-90)`)
    .attr("text-anchor", "middle").attr("font-size", 25).attr("fill", "#000").text("κ");
  const f = g.append("text").attr("transform", `translate(577,${midY}) rotate(-90)`)
    .attr("text-anchor", "middle").attr("font-size", 26).attr("fill", "#000");
  f.append("tspan").attr("font-style", "italic").text("f");
  f.append("tspan").attr("font-size", 22).attr("dy", 4).text("44");
}

const panels = [
  {
    top: 20, left: 88, right: 507, xMax: 10.5, xTicks: timeTicksA, xMinor: timeMinorA,
    title: [{text: "a: No OH-source"}],
    bandHi: bandA_hi, bandLo: bandA_lo, bandFoot: true,
    lines: [
      {data: f44_a, color: LINE_DARK, width: 0.9},
      {data: f44_b, color: RED}, {data: f44_c, color: RED}, {data: f44_d, color: RED}
    ],
    points: [
      {data: kappaA, shape: "square", color: "#000"},
      {data: kappaC, shape: "square", color: "#000"},
      {data: kappaD, shape: "square", color: "#f01010"}
    ],
    arrows: [
      {t: 3.24, from: 0.346, to: 0.306, color: ORANGE},
      {t: 5.3, from: 0.362, to: 0.320, color: BLACK},
      {t: 7.2, from: 0.370, to: 0.328, color: ORANGE},
      {t: 4.82, from: 0.289, to: 0.247, color: ORANGE}
    ],
    labels: [{t: 10.07, k: 0.350, text: "a"}, {t: 7.01, k: 0.283, text: "b"}, {t: 4.61, k: 0.213, text: "c"}],
    legend: [
      {t: 3.2, k: 0.018, shape: "square", color: "#000"}, {t: 3.78, k: 0.018, text: "a,"},
      {t: 4.96, k: 0.018, shape: "square", color: "#000"}, {t: 5.38, k: 0.018, text: "c,"},
      {t: 6.35, k: 0.018, shape: "square", color: "#f01010"}, {t: 6.95, k: 0.018, text: "d"}
    ]
  },
  {
    top: 407, left: 88, right: 507, xMax: 21, xTicks: timeTicksB, xMinor: timeMinorB,
    title: [{text: "b: TME"}],
    bandHi: bandB_hi, bandLo: bandB_lo,
    lines: [
      {data: f44_f, color: LINE_DARK, width: 0.8},
      {data: f44_e, color: LINE_DARK, width: 0.8},
      {data: f44_g, color: RED}
    ],
    points: [
      {data: kappaF, shape: "circle", color: "#555"},
      {data: kappaH, shape: "star", color: "#333"},
      {data: kappaI, shape: "tri", color: "#555"},
      {data: kappaE, shape: "square", color: "#000"}
    ],
    arrows: [
      {t: 1.9, from: 0.329, to: 0.288, color: GREEN},
      {t: 1.6, from: 0.243, to: 0.200, color: GREEN},
      {t: 2.6, from: 0.217, to: 0.260, color: GREEN},
      {t: 4.5, from: 0.349, to: 0.308, color: ORANGE},
      {t: 6.5, from: 0.365, to: 0.323, color: BLACK, shaft: "#aaa"},
      {t: 8.5, from: 0.369, to: 0.327, color: ORANGE}
    ],
    labels: [{t: 10.49, k: 0.351, text: "e"}, {t: 16.94, k: 0.331, text: "f"}, {t: 14.08, k: 0.231, text: "g"}],
    legend: [
      {t: 5.72, k: 0.019, shape: "square", color: "#000"}, {t: 6.9, k: 0.019, text: "e,"},
      {t: 9.26, k: 0.019, shape: "circle", color: "#555"}, {t: 10.5, k: 0.019, text: "f,"},
      {t: 12.47, k: 0.019, shape: "star", color: "#333"}, {t: 13.6, k: 0.019, text: "h,"},
      {t: 16.0, k: 0.019, shape: "tri", color: "#555"}, {t: 17.2, k: 0.019, text: "i"}
    ]
  },
  {
    top: 803, left: 86, right: 505, xMax: 10.45, xTicks: timeTicksC, xMinor: timeMinorC,
    title: [{text: "c: HONO + light (high NO"}, {text: "x", sub: true}, {text: ")", after: true}],
    bandHi: bandC_hi, bandLo: bandC_lo,
    lines: [
      {data: f44_j, color: LINE_DARK, width: 0.9},
      {data: f44_k, color: RED}, {data: f44_l, color: RED}
    ],
    points: [
      {data: kappaJ, shape: "square", color: "#000"},
      {data: kappaK, shape: "square", color: "#f01010"},
      {data: kappaL, shape: "circle", color: RED}
    ],
    arrows: [
      {t: 4.7, from: 0.313, to: 0.269, color: GREEN},
      {t: 4.7, from: 0.265, to: 0.238, color: GREEN},
      {t: 5.21, from: 0.182, to: 0.226, color: GREEN}
    ],
    labels: [{t: 9.79, k: 0.307, text: "j"}, {t: 7.69, k: 0.285, text: "k"}, {t: 10.0, k: 0.257, text: "l"}],
    legend: [
      {t: 3.13, k: 0.02, shape: "square", color: "#000"}, {t: 3.52, k: 0.02, text: "j,"},
      {t: 4.69, k: 0.02, shape: "square", color: "#f01010"}, {t: 5.3, k: 0.02, text: "k,"},
      {t: 6.4, k: 0.02, shape: "circle", color: RED}, {t: 7.0, k: 0.02, text: "l"}
    ]
  },
  {
    top: 1187, left: 86, right: 504, xMax: 9.53, xTicks: timeTicksD, xMinor: timeMinorD,
    title: [{text: "d: HONO + light (low NO"}, {text: "x", sub: true}, {text: ")", after: true}],
    bandHi: bandD_hi, bandLo: bandD_lo,
    lines: [
      {data: f44_m, color: LINE_DARK, width: 0.9},
      {data: f44_n, color: LINE_DARK, width: 0.9}
    ],
    points: [
      {data: kappaM, shape: "square", color: "#000"},
      {data: kappaN, shape: "circle", color: "#444"}
    ],
    arrows: [
      {t: 2.7, from: 0.341, to: 0.299, color: GREEN},
      {t: 4.75, from: 0.357, to: 0.325, color: BLACK},
      {t: 6.74, from: 0.347, to: 0.325, color: GREEN},
      {t: 4.75, from: 0.236, to: 0.260, color: GREEN}
    ],
    labels: [{t: 8.6, k: 0.347, text: "m"}, {t: 8.79, k: 0.297, text: "n"}],
    legend: [
      {t: 2.61, k: 0.017, shape: "square", color: "#000"}, {t: 3.12, k: 0.017, text: "m,"},
      {t: 4.36, k: 0.017, shape: "circle", color: "#444"}, {t: 4.88, k: 0.017, text: "n"}
    ]
  }
];

panels.forEach(drawPanel);

// shared x-axis title
svg.append("text").attr("x", 297).attr("y", 1584).attr("text-anchor", "middle")
  .attr("font-size", 25).attr("fill", "#000").text("Time / hours after α-pinene injection");
</script>
</body>
</html>
